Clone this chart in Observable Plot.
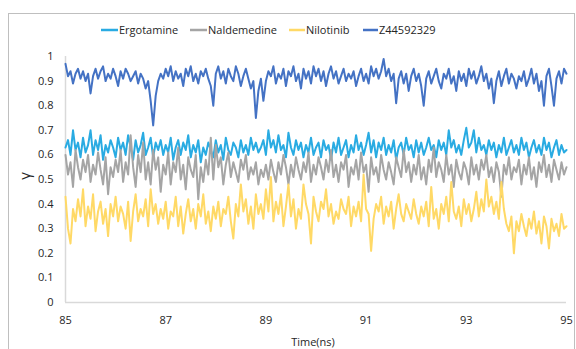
<!DOCTYPE html>
<html><head><meta charset="utf-8">
<script src="https://cdn.jsdelivr.net/npm/d3@7"></script>
<script src="https://cdn.jsdelivr.net/npm/@observablehq/plot@0.6"></script>
<style>body{margin:0;background:#fff} svg{display:block}</style>
</head><body><div id="chart"></div>
<script>
const seriesNames = ["Ergotamine", "Naldemedine", "Nilotinib", "Z44592329"];
const seriesColors = ["#29ABE2", "#A5A5A5", "#FFD966", "#4472C4"];
const xTicks = [85, 87, 89, 91, 93, 95];
const yTicks = [0, 0.1, 0.2, 0.3, 0.4, 0.5, 0.6, 0.7, 0.8, 0.9, 1];
const startTime = 85, timeStep = 0.05;

const ergotamine = [
0.63,0.66,0.60,0.70,0.62,0.65,0.59,0.67,0.61,0.64,0.70,0.60,0.66,0.62,0.68,0.58,0.64,0.61,0.66,0.63,
0.59,0.67,0.62,0.65,0.60,0.68,0.63,0.58,0.66,0.61,0.64,0.69,0.60,0.63,0.67,0.59,0.65,0.62,0.66,0.60,
0.64,0.61,0.67,0.58,0.63,0.66,0.60,0.65,0.62,0.68,0.59,0.64,0.61,0.66,0.57,0.63,0.60,0.65,0.62,0.59,
0.66,0.61,0.64,0.58,0.67,0.62,0.60,0.65,0.63,0.59,0.66,0.61,0.64,0.60,0.67,0.62,0.65,0.61,0.63,0.66,
0.60,0.70,0.63,0.66,0.61,0.68,0.62,0.64,0.59,0.69,0.63,0.60,0.66,0.62,0.65,0.59,0.64,0.61,0.67,0.60,
0.63,0.65,0.59,0.66,0.62,0.64,0.58,0.65,0.61,0.67,0.60,0.63,0.66,0.59,0.64,0.61,0.68,0.62,0.65,0.60,
0.64,0.69,0.61,0.66,0.59,0.65,0.62,0.67,0.60,0.64,0.61,0.66,0.58,0.63,0.65,0.60,0.67,0.62,0.64,0.59,
0.66,0.61,0.65,0.60,0.63,0.67,0.62,0.64,0.59,0.66,0.62,0.65,0.60,0.70,0.63,0.66,0.61,0.64,0.60,0.66,
0.71,0.63,0.65,0.70,0.61,0.67,0.62,0.64,0.60,0.66,0.62,0.65,0.59,0.64,0.61,0.67,0.60,0.63,0.66,0.61,
0.64,0.60,0.67,0.62,0.65,0.59,0.63,0.66,0.61,0.64,0.60,0.67,0.62,0.65,0.59,0.63,0.66,0.60,0.64,0.61,
0.62];

const naldemedine = [
0.60,0.52,0.57,0.47,0.62,0.55,0.50,0.58,0.53,0.60,0.49,0.56,0.52,0.61,0.54,0.48,0.59,0.44,0.55,0.51,
0.58,0.53,0.62,0.49,0.57,0.52,0.68,0.55,0.47,0.60,0.53,0.65,0.50,0.57,0.48,0.62,0.54,0.59,0.45,0.56,
0.52,0.61,0.48,0.57,0.53,0.63,0.50,0.56,0.46,0.59,0.54,0.51,0.60,0.42,0.55,0.49,0.58,0.52,0.67,0.50,
0.64,0.55,0.59,0.48,0.56,0.61,0.51,0.57,0.53,0.49,0.58,0.54,0.60,0.50,0.55,0.52,0.57,0.48,0.54,0.51,
0.56,0.50,0.58,0.53,0.49,0.57,0.52,0.60,0.55,0.48,0.56,0.51,0.59,0.54,0.50,0.57,0.53,0.61,0.49,0.56,
0.52,0.59,0.55,0.50,0.58,0.53,0.62,0.51,0.56,0.49,0.57,0.54,0.60,0.47,0.55,0.52,0.58,0.50,0.61,0.53,
0.56,0.45,0.59,0.52,0.55,0.49,0.60,0.54,0.50,0.57,0.53,0.48,0.59,0.55,0.51,0.62,0.53,0.57,0.49,0.56,
0.52,0.60,0.50,0.55,0.48,0.58,0.53,0.63,0.51,0.57,0.54,0.49,0.60,0.52,0.56,0.47,0.58,0.53,0.50,0.57,
0.54,0.48,0.59,0.52,0.56,0.50,0.58,0.54,0.60,0.51,0.55,0.49,0.57,0.53,0.43,0.56,0.52,0.59,0.50,0.55,
0.53,0.58,0.48,0.56,0.52,0.59,0.50,0.55,0.47,0.57,0.53,0.60,0.51,0.56,0.49,0.58,0.54,0.50,0.57,0.52,
0.55];

const nilotinib = [
0.43,0.30,0.24,0.38,0.33,0.42,0.35,0.46,0.31,0.39,0.34,0.44,0.29,0.37,0.41,0.32,0.38,0.27,0.40,0.35,
0.43,0.33,0.39,0.36,0.30,0.41,0.25,0.37,0.44,0.33,0.38,0.35,0.42,0.31,0.46,0.36,0.40,0.32,0.38,0.34,
0.41,0.30,0.37,0.35,0.43,0.31,0.39,0.28,0.36,0.42,0.33,0.38,0.30,0.40,0.35,0.44,0.32,0.37,0.29,0.39,
0.34,0.41,0.31,0.38,0.36,0.43,0.33,0.26,0.40,0.35,0.48,0.37,0.42,0.32,0.39,0.30,0.44,0.36,0.40,0.34,
0.46,0.37,0.51,0.33,0.41,0.36,0.44,0.31,0.39,0.48,0.35,0.42,0.30,0.38,0.34,0.48,0.40,0.36,0.24,0.43,
0.37,0.33,0.41,0.38,0.46,0.35,0.40,0.32,0.37,0.34,0.42,0.38,0.36,0.43,0.31,0.39,0.35,0.41,0.33,0.52,
0.38,0.36,0.21,0.34,0.40,0.37,0.43,0.32,0.39,0.35,0.41,0.30,0.38,0.44,0.36,0.33,0.40,0.37,0.34,0.42,
0.36,0.32,0.39,0.35,0.41,0.31,0.47,0.34,0.38,0.30,0.40,0.36,0.43,0.33,0.49,0.37,0.34,0.39,0.31,0.42,
0.36,0.40,0.33,0.38,0.45,0.35,0.42,0.37,0.50,0.39,0.43,0.36,0.41,0.34,0.49,0.38,0.32,0.29,0.35,0.20,
0.33,0.29,0.36,0.31,0.27,0.34,0.30,0.37,0.28,0.33,0.24,0.35,0.31,0.22,0.34,0.29,0.32,0.27,0.36,0.30,
0.31];

const z44592329 = [
0.97,0.92,0.94,0.89,0.93,0.95,0.91,0.94,0.90,0.93,0.85,0.92,0.95,0.91,0.94,0.96,0.90,0.93,0.91,0.95,
0.92,0.88,0.94,0.91,0.95,0.93,0.90,0.92,0.94,0.89,0.93,0.91,0.87,0.90,0.82,0.72,0.84,0.90,0.93,0.91,
0.95,0.92,0.96,0.90,0.94,0.91,0.93,0.88,0.95,0.92,0.96,0.90,0.93,0.89,0.94,0.92,0.95,0.91,0.88,0.80,
0.93,0.96,0.91,0.94,0.89,0.95,0.92,0.90,0.96,0.93,0.88,0.92,0.95,0.91,0.87,0.90,0.75,0.86,0.91,0.82,
0.90,0.94,0.92,0.96,0.89,0.93,0.91,0.95,0.88,0.94,0.92,0.96,0.90,0.93,0.87,0.95,0.91,0.94,0.89,0.96,
0.92,0.95,0.90,0.94,0.88,0.93,0.96,0.91,0.94,0.89,0.92,0.95,0.90,0.93,0.91,0.94,0.88,0.92,0.95,0.90,
0.93,0.89,0.96,0.92,0.95,0.91,0.94,0.99,0.92,0.95,0.90,0.93,0.81,0.91,0.94,0.89,0.93,0.86,0.92,0.95,
0.90,0.93,0.88,0.80,0.91,0.94,0.89,0.92,0.95,0.90,0.87,0.93,0.91,0.95,0.89,0.92,0.86,0.94,0.90,0.93,
0.88,0.95,0.91,0.94,0.89,0.92,0.96,0.90,0.93,0.87,0.91,0.81,0.90,0.94,0.88,0.92,0.95,0.89,0.93,0.91,
0.87,0.92,0.90,0.94,0.88,0.91,0.95,0.89,0.93,0.86,0.90,0.80,0.92,0.95,0.88,0.80,0.91,0.94,0.89,0.95,
0.93];

const allSeries = [ergotamine, naldemedine, nilotinib, z44592329];
const rows = [];
allSeries.forEach((arr, s) => arr.forEach((v, i) =>
  rows.push({series: seriesNames[s], t: startTime + i * timeStep, v})));

const textColor = "#262626";
const plot = Plot.plot({
  width: 576, height: 349,
  marginLeft: 65, marginRight: 10, marginTop: 56, marginBottom: 47,
  style: {fontFamily: "Open Sans, sans-serif", fontSize: "11px", color: textColor, background: "#fff"},
  x: {domain: [85, 95], ticks: xTicks, tickSize: 0, tickPadding: 14, label: null},
  y: {domain: [0, 1], ticks: yTicks, tickSize: 0, tickPadding: 12, label: null, tickFormat: d3.format("~g")},
  marks: [
    Plot.ruleX([85], {stroke: "#d9d9d9", strokeWidth: 1.5}),
    Plot.ruleY([0], {stroke: "#d9d9d9", strokeWidth: 1.5}),
    ...seriesNames.map((n, s) => Plot.lineY(rows.filter(r => r.series === n),
      {x: "t", y: "v", stroke: seriesColors[s], strokeWidth: 2}))
  ]
});
document.getElementById("chart").appendChild(plot);

const svg = d3.select(plot);
svg.insert("rect", ":first-child")
  .attr("x", 8.5).attr("y", 13.5).attr("width", 566).attr("height", 400)
  .attr("fill", "none").attr("stroke", "#bfbfbf").attr("stroke-width", 1);

const legendItems = [
  {name: seriesNames[0], color: seriesColors[0], x1: 101, x2: 118, tx: 119},
  {name: seriesNames[1], color: seriesColors[1], x1: 190, x2: 207, tx: 208},
  {name: seriesNames[2], color: seriesColors[2], x1: 289, x2: 305, tx: 306},
  {name: seriesNames[3], color: seriesColors[3], x1: 363, x2: 378, tx: 379}
];
const lg = svg.append("g").attr("text-anchor", "start");
legendItems.forEach(d => {
  lg.append("line").attr("x1", d.x1).attr("x2", d.x2).attr("y1", 30).attr("y2", 30)
    .attr("stroke", d.color).attr("stroke-width", 2.5);
  lg.append("text").attr("x", d.tx).attr("y", 30).attr("dy", "0.35em")
    .attr("text-anchor", "start")
    .attr("font-family", "Open Sans, sans-serif").attr("font-size", 11)
    .attr("fill", textColor).text(d.name);
});

svg.append("text").attr("x", 313).attr("y", 342).attr("dy", "0.35em")
  .attr("text-anchor", "middle").attr("font-family", "Open Sans, sans-serif")
  .attr("font-size", 11).attr("fill", textColor).text("Time(ns)");
svg.append("text").attr("transform", "translate(25,176) rotate(-90)")
  .attr("dy", "0.35em").attr("text-anchor", "middle")
  .attr("font-family", "Open Sans, sans-serif").attr("font-size", 15)
  .attr("fill", textColor).text("γ");
</script></body></html>
